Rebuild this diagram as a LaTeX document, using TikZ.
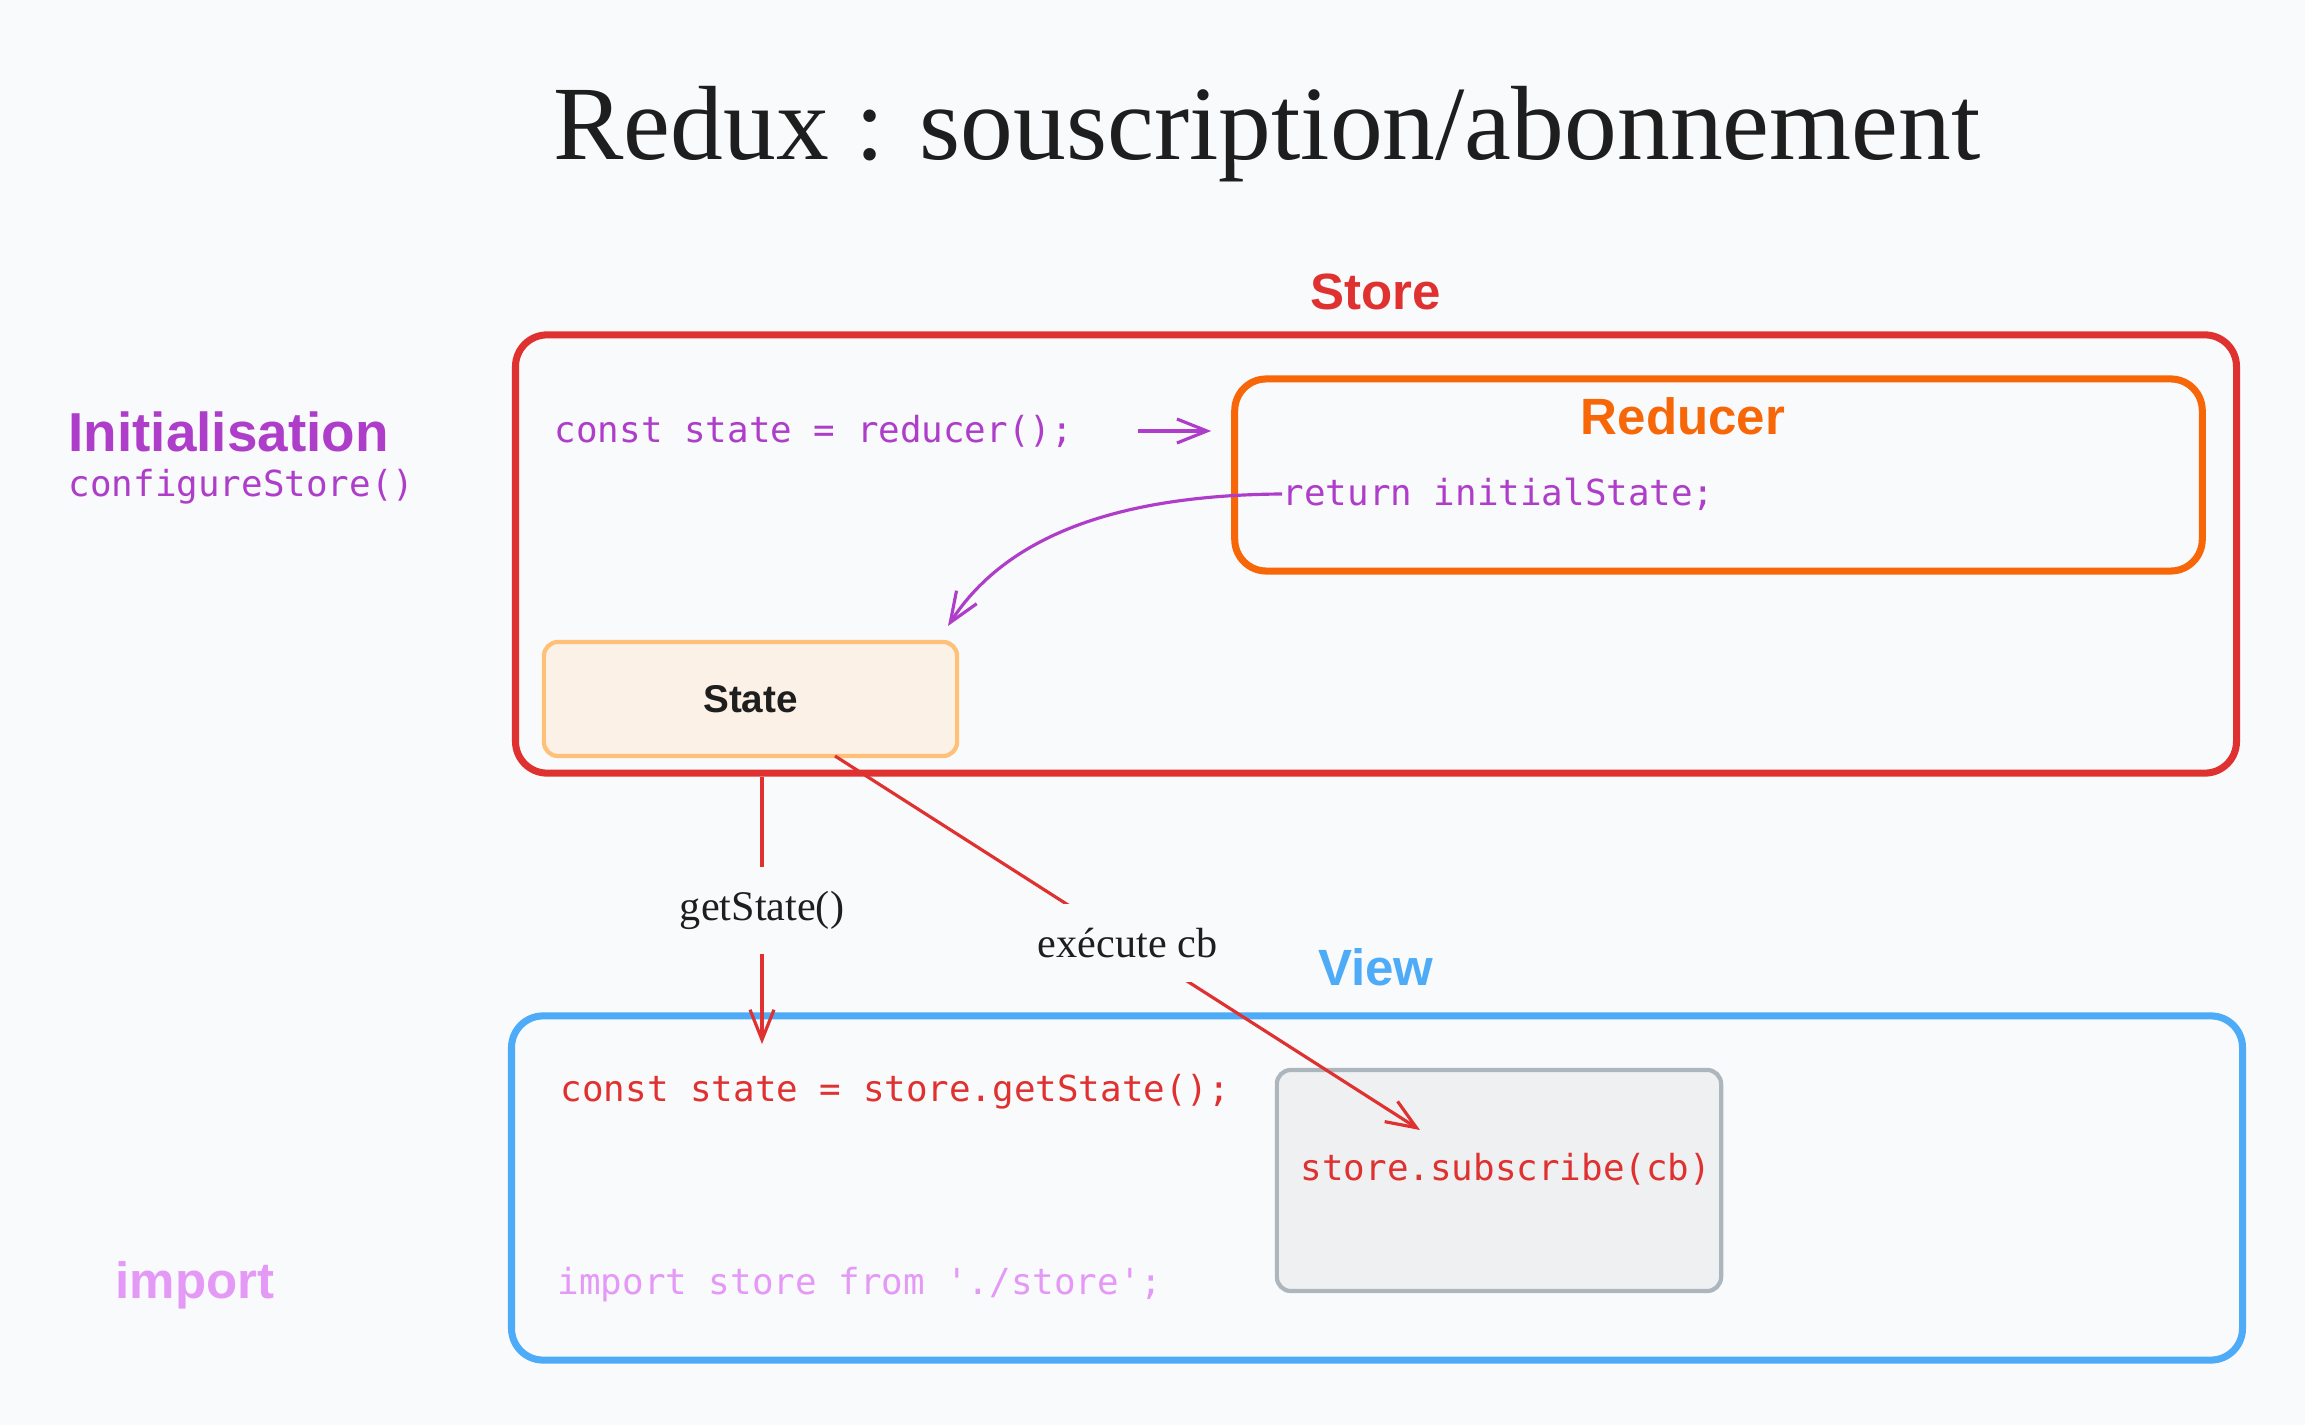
\documentclass[tikz,border=0pt]{standalone}
\usepackage{fontspec}
\setmainfont{Liberation Serif}
\setmonofont{DejaVu Sans Mono}
\newfontfamily\handfont{Liberation Sans}
\usepackage{xcolor}
\usetikzlibrary{arrows.meta, positioning, calc}

\definecolor{bgpaper}{HTML}{F9FAFB}
\definecolor{storered}{HTML}{E03131}
\definecolor{reducerorange}{HTML}{F76707}
\definecolor{viewblue}{HTML}{4DABF7}
\definecolor{codepurple}{HTML}{AE3EC9}
\definecolor{importpink}{HTML}{E599F7}
\definecolor{stateborder}{HTML}{FFC078}
\definecolor{statefill}{HTML}{FBF1E6}
\definecolor{subborder}{HTML}{ADB5BD}
\definecolor{subfill}{HTML}{EFF0F1}
\definecolor{inkdark}{HTML}{1E1E1E}

\begin{document}
\begin{tikzpicture}[
    x=0.01cm, y=-0.01cm,
    frame/.style={rectangle, draw, line width=2pt, rounded corners=9pt,
      inner sep=0pt},
    storebox/.style={frame, draw=storered,
      minimum width=17.2cm, minimum height=4.38cm},
    reducerbox/.style={frame, draw=reducerorange,
      minimum width=9.67cm, minimum height=1.92cm},
    viewbox/.style={frame, draw=viewblue,
      minimum width=17.3cm, minimum height=3.44cm},
    statebox/.style={frame, line width=1.2pt, rounded corners=4pt,
      draw=stateborder, fill=statefill,
      minimum width=4.13cm, minimum height=1.14cm,
      font=\handfont\bfseries\fontsize{11}{13}\selectfont, text=inkdark},
    subbox/.style={frame, line width=1.2pt, rounded corners=4pt,
      draw=subborder, fill=subfill,
      minimum width=4.44cm, minimum height=2.21cm},
    code/.style={font=\ttfamily\fontsize{10.2}{12}\selectfont,
      anchor=west, inner sep=0pt},
    hand/.style={font=\handfont\bfseries\fontsize{14.5}{17}\selectfont},
    caption/.style={font=\fontsize{12}{14}\selectfont, text=inkdark,
      fill=bgpaper, inner sep=7pt},
    arrow/.style={-{Straight Barb[length=3mm, width=2.4mm]},
      line width=0.9pt},
]

% ── Paper ──
\fill[bgpaper] (0,0) rectangle (2305,1425);
\useasboundingbox (0,0) rectangle (2305,1425);

% ── Title ──
\node[font=\fontsize{30}{36}\selectfont, text=inkdark] (title)
  at (1267,134) {Redux : souscription/abonnement};

% ── Side labels ──
\node[hand, font=\handfont\bfseries\fontsize{15.6}{18}\selectfont,
  text=codepurple, anchor=west, inner sep=0pt] (init)
  at (68,432) {Initialisation};
\node[code, text=codepurple] (confstore) at (68,487) {configureStore()};
\node[hand, text=importpink, anchor=west, inner sep=0pt] (imp)
  at (115,1285) {import};

% ── Store ──
\node[storebox] (store) at (1376,554) {};
\node[hand, text=storered] (storelbl) at (1376,292) {Store};
\node[code, text=codepurple] (initcode) at (554,431)
  {const state = reducer();};

\node[reducerbox] (reducer) at (1718.5,475) {};
\node[hand, text=reducerorange] (reducerlbl) at (1683,416) {Reducer};
\node[code, text=codepurple] (ret) at (1282,494) {return initialState;};

\node[statebox] (state) at (750.5,699) {State};

% ── View ──
\node[viewbox] (view) at (1377,1188) {};
\node[hand, text=viewblue] (viewlbl) at (1376,967) {View};
\node[code, text=storered] (getcode) at (560,1092)
  {const state = store.getState();};
\node[code, text=importpink] (impcode) at (557,1285)
  {import store from './store';};

\node[subbox] (sub) at (1499,1180.5) {};
\node[code, text=storered] (subcode) at (1300,1169) {store.subscribe(cb)};

% ── Arrows ──
\coordinate (retend) at (948,626);
\coordinate (gsend) at (762,1044);
\coordinate (cbstart) at (835,756);
\coordinate (cbend) at (1420,1130);

\draw[arrow, codepurple, shorten <=0.64cm, shorten >=0.2cm]
  (initcode.east) -- (initcode.east -| reducer.west);
\draw[arrow, codepurple]
  (ret.west) .. controls (1130,495) and (1010,530) .. (retend);

\draw[arrow, storered] (gsend |- store.south) --
  node[caption] (gslbl) {getState()} (gsend);
\draw[arrow, storered] (cbstart) --
  node[caption] (cblbl) {exécute cb} (cbend);

\end{tikzpicture}
\end{document}
